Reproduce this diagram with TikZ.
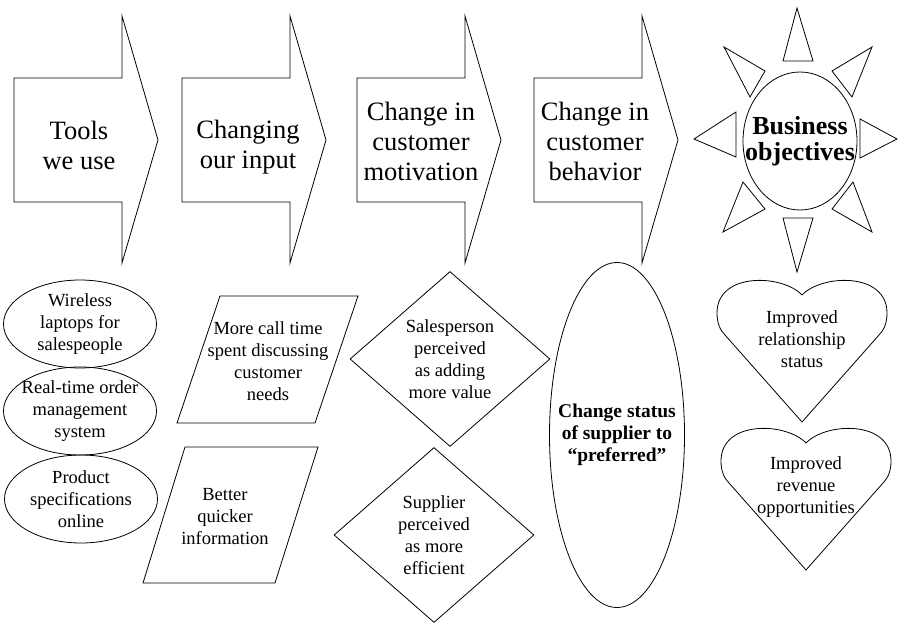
\documentclass[tikz,border=0pt]{standalone}
\usepackage{fontspec}
\setmainfont{Liberation Serif}
\usetikzlibrary{shapes.geometric,positioning}

\begin{document}
\begin{tikzpicture}[
  x=1pt, y=-1pt,
  line/.style  ={draw,line width=0.8pt},
  big/.style   ={align=center,font=\fontsize{26.5}{30}\selectfont},
  lbl/.style   ={align=center,font=\fontsize{18.5}{22}\selectfont},
  oval/.style  ={line,ellipse,lbl,inner xsep=-10pt,inner ysep=0pt,
                 minimum width=153pt,minimum height=88pt},
  gem/.style   ={line,diamond,lbl,inner sep=0pt,
                 minimum width=200pt,minimum height=175pt},
  heart/.pic   ={\draw[line] (0,0) .. controls (-20,-21) and (-85,-23) .. (-85,18)
                   .. controls (-85,28) and (-82,35) .. (-77,40) -- (0,127)
                   -- (77,40) .. controls (82,35) and (85,28) .. (85,18)
                   .. controls (85,-23) and (20,-21) .. (0,0);}
]
\useasboundingbox (0,0) rectangle (899,623);

%% Top row: four block arrows
\foreach \x in {14,182,357,534}
  \draw[line] (\x,78) -- (\x+108,78) -- (\x+108,16) -- (\x+144,140)
    -- (\x+108,263) -- (\x+108,202) -- (\x,202) -- cycle;

\node[big] (tools) at (79,145)  {Tools\\we use};
\node[big] (input) at (248,147) {Changing\\our input};
\node[big] (motiv) at (421,141) {Change in\\customer\\motivation};
\node[big] (behav) at (595,141) {Change in\\customer\\behavior};

%% Sun
\node[line,ellipse,inner xsep=-16pt,inner ysep=0pt,
      minimum width=114pt,minimum height=138pt,
      align=center,font=\fontsize{26}{26}\bfseries\selectfont]
      (biz) at (800,141) {Business\\objectives};
\draw[line] (783,61) -- (813,61) -- (797,8) -- cycle;
\draw[line] (783,218) -- (813,218) -- (797,272) -- cycle;
\draw[line] (736,112) -- (736,157) -- (694,139) -- cycle;
\draw[line] (860,119) -- (860,158) -- (897,139) -- cycle;
\draw[line] (724,47) -- (765,71) -- (750,97) -- cycle;
\draw[line] (872,47) -- (832,71) -- (852,97) -- cycle;
\draw[line] (743,182) -- (765,209) -- (723,232) -- cycle;
\draw[line] (853,182) -- (832,209) -- (872,232) -- cycle;

%% Column 1: tools
\node[oval] (wireless) at (80,324) {Wireless\\laptops for\\salespeople};
\node[oval] (realtime) at (80,411) {Real-time order\\management\\system};
\node[oval] (specs)    at (81,499) {Product\\specifications\\online};

%% Column 2: input
\draw[line] (220,296) -- (358,296) -- (315,423) -- (177,423) -- cycle;
\node[lbl] (calltime) at (268,361) {More call time\\spent discussing\\customer\\needs};
\draw[line] (185,447) -- (318,447) -- (275,583) -- (143,583) -- cycle;
\node[lbl] (quicker) at (225,517) {Better\\quicker\\information};

%% Column 3: motivation
\node[gem] (valueadd)  at (450,359) {Salesperson\\perceived\\as adding\\more value};
\node[gem] (efficient) at (434,535) {Supplier\\perceived\\as more\\efficient};

%% Column 4: behavior
\node[line,ellipse,inner xsep=-12pt,inner ysep=0pt,
      minimum width=135pt,minimum height=345pt,
      align=center,font=\fontsize{19.5}{22}\bfseries\selectfont]
      (preferred) at (617,435) {Change status\\of supplier to\\``preferred''};

%% Column 5: objectives
\pic at (802,295) {heart};
\node[lbl] (relation) at (802,339) {Improved\\relationship\\status};
\pic at (806,443) {heart};
\node[lbl] (revenue) at (806,487) {Improved\\revenue\\opportunities};

\end{tikzpicture}
\end{document}
